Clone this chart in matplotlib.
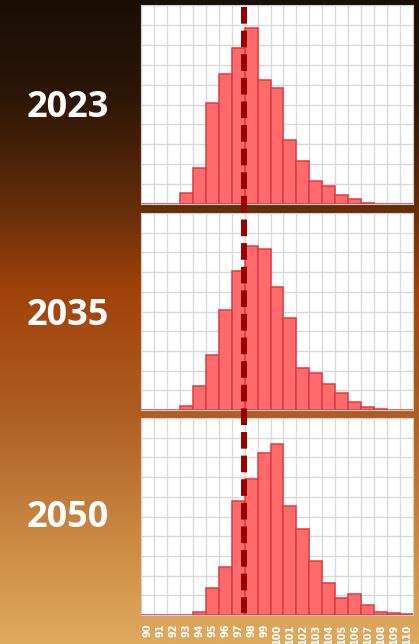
import numpy as np
import matplotlib
matplotlib.use('Agg')
import matplotlib.pyplot as plt
from matplotlib.lines import Line2D
from matplotlib.colors import LinearSegmentedColormap
from matplotlib import transforms

# categories (x axis)
valors = list(range(90, 111))

# alcada de les barres (unitats de la graella, 0-10)
freq_2023 = [0, 0, 0, 0.54, 1.83, 5.08, 6.55, 7.85, 8.84, 6.21, 5.81,
             3.23, 2.14, 1.18, 0.88, 0.44, 0.24, 0.05, 0, 0, 0]
freq_2035 = [0, 0, 0, 0.22, 1.23, 2.77, 5.08, 7.08, 8.33, 8.18, 6.23,
             4.68, 2.13, 1.88, 1.33, 0.88, 0.42, 0.17, 0.03, 0, 0]
freq_2050 = [0, 0, 0, 0, 0.17, 1.36, 2.42, 5.80, 6.92, 8.20, 8.69,
             5.53, 4.39, 2.76, 1.63, 0.86, 1.08, 0.53, 0.14, 0.08, 0.05]

anys = ['2023', '2035', '2050']
freqs = [freq_2023, freq_2035, freq_2050]
mitjana = 97.42

plt.rcParams['lines.scale_dashes'] = False

fig = plt.figure(figsize=(4.19, 6.44), dpi=100)

# fons en degradat
bg = fig.add_axes([0, 0, 1, 1], zorder=-10)
cmap = LinearSegmentedColormap.from_list('fons', [
    (0.0, (26/255, 14/255, 6/255)),
    (0.15, (45/255, 22/255, 6/255)),
    (0.32, (100/255, 45/255, 10/255)),
    (0.45, (160/255, 66/255, 10/255)),
    (0.65, (175/255, 95/255, 35/255)),
    (0.85, (205/255, 140/255, 70/255)),
    (1.0, (222/255, 170/255, 96/255)),
])
grad = np.linspace(0, 1, 256).reshape(-1, 1)
bg.imshow(grad, aspect='auto', cmap=cmap, extent=[0, 1, 1, 0])
bg.axis('off')

posicions = [[141/419, 440/644, 272/419, 199/644],
             [141/419, 234/644, 272/419, 197/644],
             [141/419, 29/644, 272/419, 197/644]]
centres_y = [1 - 108/644, 1 - 316/644, 1 - 518/644]

x = np.arange(len(valors))
eixos = []
for i, (any_, f) in enumerate(zip(anys, freqs)):
    ax = fig.add_axes(posicions[i])
    ax.set_facecolor('white')
    ax.bar(x, f, width=1.0, color='#ff6b6b', edgecolor='#e03a44',
           linewidth=1.1, zorder=3)
    ax.set_xlim(-0.5, len(valors) - 0.5)
    ax.set_ylim(0, 10)
    ax.set_xticks(np.arange(-0.5, len(valors), 1), minor=True)
    ax.set_yticks(np.arange(0, 11, 1))
    ax.grid(which='minor', axis='x', color='#d9d9d9', linewidth=1.0, zorder=0)
    ax.grid(which='major', axis='y', color='#d9d9d9', linewidth=1.0, zorder=0)
    ax.set_yticklabels([])
    ax.tick_params(which='both', length=0)
    ax.set_xticks(x)
    if i == 2:
        ax.set_xticklabels([str(v) for v in valors], rotation=90, color='white',
                           fontweight='bold', fontsize=7, va='top')
        ax.tick_params(axis='x', pad=6)
    else:
        ax.set_xticklabels([])
    for s in ax.spines.values():
        s.set_color('#d0d0d0')
        s.set_linewidth(0.8)
    fig.text(68/419, centres_y[i], any_, color='white', fontsize=26,
             fontweight='bold', family=['Open Sans', 'DejaVu Sans'],
             ha='center', va='center')
    eixos.append(ax)

# linia discontinua de la mitjana, travessa els tres panells
tr = transforms.blended_transform_factory(eixos[0].transData, fig.transFigure)
linia = Line2D([mitjana - 90, mitjana - 90], [1 - 7/644, 1 - 613/644],
               transform=tr, color='#990000', linewidth=4.3,
               linestyle=(0, (12, 5)), zorder=20)
fig.add_artist(linia)

fig.savefig('out.png', dpi=100)
